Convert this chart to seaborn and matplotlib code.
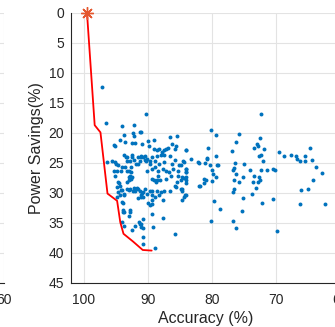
import matplotlib
matplotlib.use('Agg')
import matplotlib.pyplot as plt
import seaborn as sns

sns.set_style('white')
plt.rcParams['font.family'] = ['Liberation Sans', 'DejaVu Sans']

# Pareto front (red line), first point marked with a star
front_acc = [99.5, 98.3, 97.4, 96.3, 94.8, 94.3, 93.8, 92.3, 90.8, 89.4]
front_ps = [0.0, 18.7, 19.9, 30.1, 31.3, 34.9, 36.8, 38.1, 39.5, 39.6]

# all evaluated configurations (blue dots)
# high-accuracy cluster
acc_a = [97.2, 96.5, 94.1, 92.2, 90.3, 93.7, 92.3, 92.2, 91.3, 91.1,
         95.3, 95.1, 94.4, 93.5, 92.5, 92.0, 90.9, 89.9, 89.1, 89.8,
         89.0, 88.5, 88.2, 87.8, 87.4, 87.1, 86.8, 86.5, 85.4, 86.2,
         85.6, 85.7, 84.0, 82.1, 84.5, 96.3, 95.6, 95.1, 94.9, 94.6,
         93.8, 93.4, 93.2, 92.5, 92.4, 92.1, 91.5, 91.1, 90.8, 90.5,
         90.3, 91.3, 91.9, 92.6, 94.8, 95.3, 95.2, 94.2, 93.5, 93.0,
         92.7, 93.0, 92.9, 92.7, 93.2, 94.5, 94.8, 94.2, 94.4, 93.7,
         93.3, 93.0, 92.1, 92.0, 91.5, 90.7, 91.0, 91.1, 89.3, 88.6,
         89.4, 88.9, 89.6, 88.2, 87.5, 87.7, 86.6, 85.8, 85.6, 84.8,
         85.5, 84.6, 84.2, 84.0, 84.1, 94.1, 93.9, 92.8, 92.9, 87.6,
         91.3, 90.8, 92.5, 89.2, 85.8, 90.8, 88.8, 88.6, 88.1, 90.1,
         89.4, 88.9, 88.4, 87.7, 87.1, 86.7, 86.1, 85.3, 85.1, 86.2,
         87.4, 88.2, 88.9, 89.7, 89.4, 88.6, 87.9, 87.4, 86.5, 85.7,
         84.1, 84.1, 85.3, 86.4, 87.1]
ps_a = [12.4, 18.3, 18.8, 18.6, 16.8, 20.3, 20.0, 20.5, 19.9, 19.9,
        22.0, 22.2, 21.2, 21.5, 21.7, 21.7, 21.8, 21.4, 21.1, 22.1,
        22.6, 22.9, 22.6, 23.1, 22.8, 22.7, 22.5, 20.7, 20.5, 21.8,
        22.2, 22.7, 22.9, 24.9, 24.7, 24.9, 24.6, 24.9, 25.1, 25.4,
        23.6, 24.0, 24.6, 24.0, 23.7, 24.5, 24.0, 23.9, 24.0, 24.5,
        24.6, 24.6, 25.1, 25.7, 26.3, 26.4, 27.1, 26.3, 25.7, 26.3,
        26.5, 27.4, 27.8, 27.7, 28.2, 28.3, 29.0, 29.5, 30.3, 30.3,
        29.3, 29.5, 29.2, 29.6, 29.3, 29.9, 30.3, 30.7, 29.6, 29.6,
        31.2, 30.6, 32.0, 30.4, 29.6, 31.2, 29.6, 28.8, 29.0, 27.9,
        28.2, 29.3, 30.4, 27.4, 27.8, 31.5, 32.9, 32.9, 33.8, 34.1,
        35.1, 35.9, 36.2, 35.6, 36.8, 37.4, 28.2, 27.8, 27.8, 26.3,
        26.0, 25.7, 26.3, 26.0, 26.3, 26.5, 26.0, 26.3, 25.4, 25.1,
        24.9, 25.1, 24.6, 25.1, 24.0, 23.9, 23.6, 23.6, 23.9, 24.5,
        26.0, 26.5, 27.1, 27.1, 27.7]

# extra points in the dense part and near the bottom of the cloud
acc_b = [93.3, 92.8, 91.5, 91.0, 90.5, 90.2, 89.7, 94.0, 93.3, 92.8,
         92.5, 94.6, 94.3, 94.0, 94.6, 94.8, 92.8, 92.3, 91.7, 91.2,
         90.9, 90.7, 91.5, 93.8, 90.5, 90.2, 89.7, 89.4, 89.3, 89.1,
         88.4, 93.9, 94.0, 93.8, 92.0, 91.0, 90.7, 88.9, 91.0, 91.4,
         90.7, 93.7, 92.8, 93.9, 89.4, 89.4, 89.9, 87.9]
ps_b = [24.0, 24.6, 25.1, 24.0, 23.9, 24.3, 24.6, 25.7, 26.3, 27.1,
        27.4, 28.2, 28.8, 29.5, 29.9, 30.7, 29.3, 29.6, 29.2, 29.6,
        30.0, 30.7, 30.8, 30.2, 29.3, 30.2, 29.6, 30.4, 27.7, 27.9,
        27.1, 33.2, 34.9, 35.5, 35.5, 35.7, 38.5, 39.1, 35.2, 34.8,
        34.3, 33.2, 33.1, 31.6, 31.8, 33.5, 31.6, 29.9]

# low-accuracy tail
acc_c = [72.3, 80.1, 79.3, 75.8, 76.3, 72.5, 73.0, 72.8, 73.4, 71.8,
         80.6, 76.8, 69.5, 68.8, 67.7, 66.9, 65.4, 64.7, 66.7, 66.3,
         65.5, 64.3, 63.8, 62.8, 64.2, 65.0, 66.1, 66.2, 62.4, 72.4,
         72.0, 72.6, 75.0, 76.4, 76.6, 76.7, 74.1, 72.4, 71.4, 70.5,
         70.2, 76.2, 75.2, 73.5, 72.7, 72.8, 72.5, 73.6, 75.8, 76.5,
         73.1, 76.6, 76.7, 73.7, 75.2, 70.4, 72.1, 75.3, 76.7, 76.2,
         69.9, 79.7, 78.8, 80.1, 79.3, 79.2, 79.1, 80.3, 80.0, 79.9,
         80.0, 79.3, 80.7, 80.8, 81.0, 82.0, 83.3, 84.0, 84.4, 84.8,
         84.0, 84.0, 84.6, 84.4, 84.1, 84.8, 84.6, 84.1, 84.3, 84.6,
         82.0, 81.9, 81.3, 80.9, 81.2]
ps_c = [16.9, 19.5, 20.4, 20.2, 21.5, 20.9, 21.8, 22.2, 22.5, 22.6,
        22.5, 23.0, 23.2, 23.9, 23.6, 23.9, 23.9, 22.5, 24.3, 24.6,
        24.6, 24.5, 25.6, 26.6, 27.8, 29.3, 29.5, 31.8, 31.8, 23.6,
        24.6, 23.8, 25.1, 25.0, 25.9, 26.1, 26.2, 26.2, 26.2, 26.0,
        26.1, 26.8, 27.3, 27.1, 27.4, 28.1, 27.9, 28.2, 28.2, 27.9,
        29.2, 29.3, 29.8, 30.2, 30.9, 31.0, 31.7, 33.0, 34.6, 35.9,
        36.4, 31.3, 32.6, 34.6, 23.9, 25.3, 25.4, 25.3, 26.2, 26.9,
        28.0, 27.3, 24.1, 24.4, 25.0, 25.0, 24.3, 22.9, 24.9, 25.4,
        26.0, 26.5, 27.3, 27.5, 28.4, 29.3, 29.6, 30.4, 30.6, 31.2,
        28.9, 28.8, 27.7, 27.8, 28.4]

acc = acc_a + acc_b + acc_c
savings = ps_a + ps_b + ps_c

x_ticks = [100, 90, 80, 70, 60]
y_ticks = [0, 5, 10, 15, 20, 25, 30, 35, 40, 45]

text_col = '#262626'
grid_col = '#e3e3e3'

fig = plt.figure(figsize=(3.35, 3.27), dpi=100)
# neighbouring subplot, only its right edge is in view
ax0 = fig.add_axes([-0.79, 0.1346, 0.803, 0.8257])
ax = fig.add_axes([0.2119, 0.1346, 0.803, 0.8257])

for a in (ax0, ax):
    a.set_xlim(102, 60)
    a.set_ylim(45, 0)
    a.set_xticks(x_ticks)
    a.set_yticks(y_ticks)
    a.grid(True, color=grid_col, linewidth=0.8)
    a.set_axisbelow(True)
    for s in ('top', 'right'):
        a.spines[s].set_visible(False)
    for s in ('left', 'bottom'):
        a.spines[s].set_color(text_col)
        a.spines[s].set_linewidth(0.8)
    a.tick_params(direction='in', length=3, width=0.7, colors=text_col,
                  labelsize=10, labelcolor=text_col)
    a.tick_params(axis='x', pad=7)
    a.tick_params(axis='y', pad=5)

# only the last x label of the neighbour is (partly) visible
ax0.set_xticklabels(['', '', '', '', '60'])
ax0.set_yticklabels([])

sns.scatterplot(x=acc, y=savings, ax=ax, s=8, color='#0072BD',
                linewidth=0, legend=False, zorder=2)
sns.lineplot(x=front_acc, y=front_ps, ax=ax, sort=False, estimator=None,
             color='#ff0000', linewidth=1.3, zorder=3)
# matlab style asterisk
ax.plot(front_acc[0], front_ps[0], marker=(8, 2, 0), markersize=9,
        markeredgewidth=1.0, color='#e4572e', linestyle='none',
        zorder=4, clip_on=False)

ax.set_xlabel('Accuracy (%)', fontsize=11.5, color=text_col, labelpad=3)
ax.set_ylabel('Power Savings(%)', fontsize=11.5, color=text_col, labelpad=3)
ax.set_xlim(102, 60)
ax.set_ylim(45, 0)

fig.savefig('out.png', dpi=100)
